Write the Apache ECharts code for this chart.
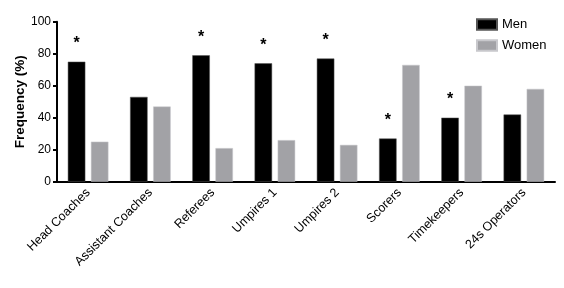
<!DOCTYPE html>
<html>
<head>
<meta charset="utf-8">
<script src="https://cdn.jsdelivr.net/npm/echarts@6/dist/echarts.min.js"></script>
<style>
html,body{margin:0;padding:0;background:#fff;}
#chart{width:564px;height:288px;}
</style>
</head>
<body>
<div id="chart"></div>
<script>
var categories = ['Head Coaches','Assistant Coaches','Referees','Umpires 1','Umpires 2','Scorers','Timekeepers','24s Operators'];
var men = [75, 53, 79, 74, 77, 27, 40, 42];
var women = [25, 47, 21, 26, 23, 73, 60, 58];
var significant = [true, false, true, true, true, true, true, false];
var yTicks = [0, 20, 40, 60, 80, 100];

var FONT = 'Liberation Sans';
var chart = echarts.init(document.getElementById('chart'), null, {renderer:'canvas'});

var menData = men.map(function(v, i){
  return {
    value: v,
    label: {
      show: significant[i],
      position: 'top',
      distance: 10,
      formatter: '*',
      fontSize: 16,
      fontWeight: 'bold',
      color: '#000',
      fontFamily: FONT
    }
  };
});

chart.setOption({
  animation: false,
  textStyle: {fontFamily: FONT},
  grid: {left: 57, right: 9, top: 21.7, bottom: 106.3, containLabel: false},
  legend: {
    orient: 'vertical',
    left: 476,
    top: 18,
    padding: 0,
    icon: 'rect',
    itemWidth: 20,
    itemHeight: 10.5,
    itemGap: 8,
    textStyle: {fontSize: 13, color: '#000', fontFamily: FONT},
    data: ['Men', 'Women']
  },
  xAxis: {
    type: 'category',
    data: categories,
    axisLine: {lineStyle: {color: '#000', width: 2}},
    axisTick: {alignWithLabel: true, length: 4, lineStyle: {color: '#000', width: 2}},
    axisLabel: {rotate: 45, fontSize: 12.5, color: '#000', fontFamily: FONT, margin: 9, interval: 0}
  },
  yAxis: {
    type: 'value',
    min: 0, max: 100, interval: 20,
    name: 'Frequency (%)',
    nameLocation: 'middle',
    nameGap: 30,
    nameMoveOverlap: false,
    nameTextStyle: {fontSize: 13.5, fontWeight: 'bold', color: '#000', fontFamily: FONT},
    splitLine: {show: false},
    axisLine: {show: true, lineStyle: {color: '#000', width: 2}},
    axisTick: {show: true, length: 4, lineStyle: {color: '#000', width: 2}},
    axisLabel: {fontSize: 12, color: '#000', fontFamily: FONT, margin: 6,
      formatter: function(v){ return yTicks.indexOf(v) >= 0 ? String(v) : ''; }}
  },
  series: [
    {
      name: 'Men', type: 'bar', data: menData,
      barWidth: 17.5, barGap: '32%',
      itemStyle: {color: '#000', borderColor: '#555', borderWidth: 0.5}
    },
    {
      name: 'Women', type: 'bar', data: women,
      barWidth: 17.5,
      itemStyle: {color: '#a2a2a6', borderColor: '#c8c8cc', borderWidth: 0.5}
    }
  ]
});
</script>
</body>
</html>
